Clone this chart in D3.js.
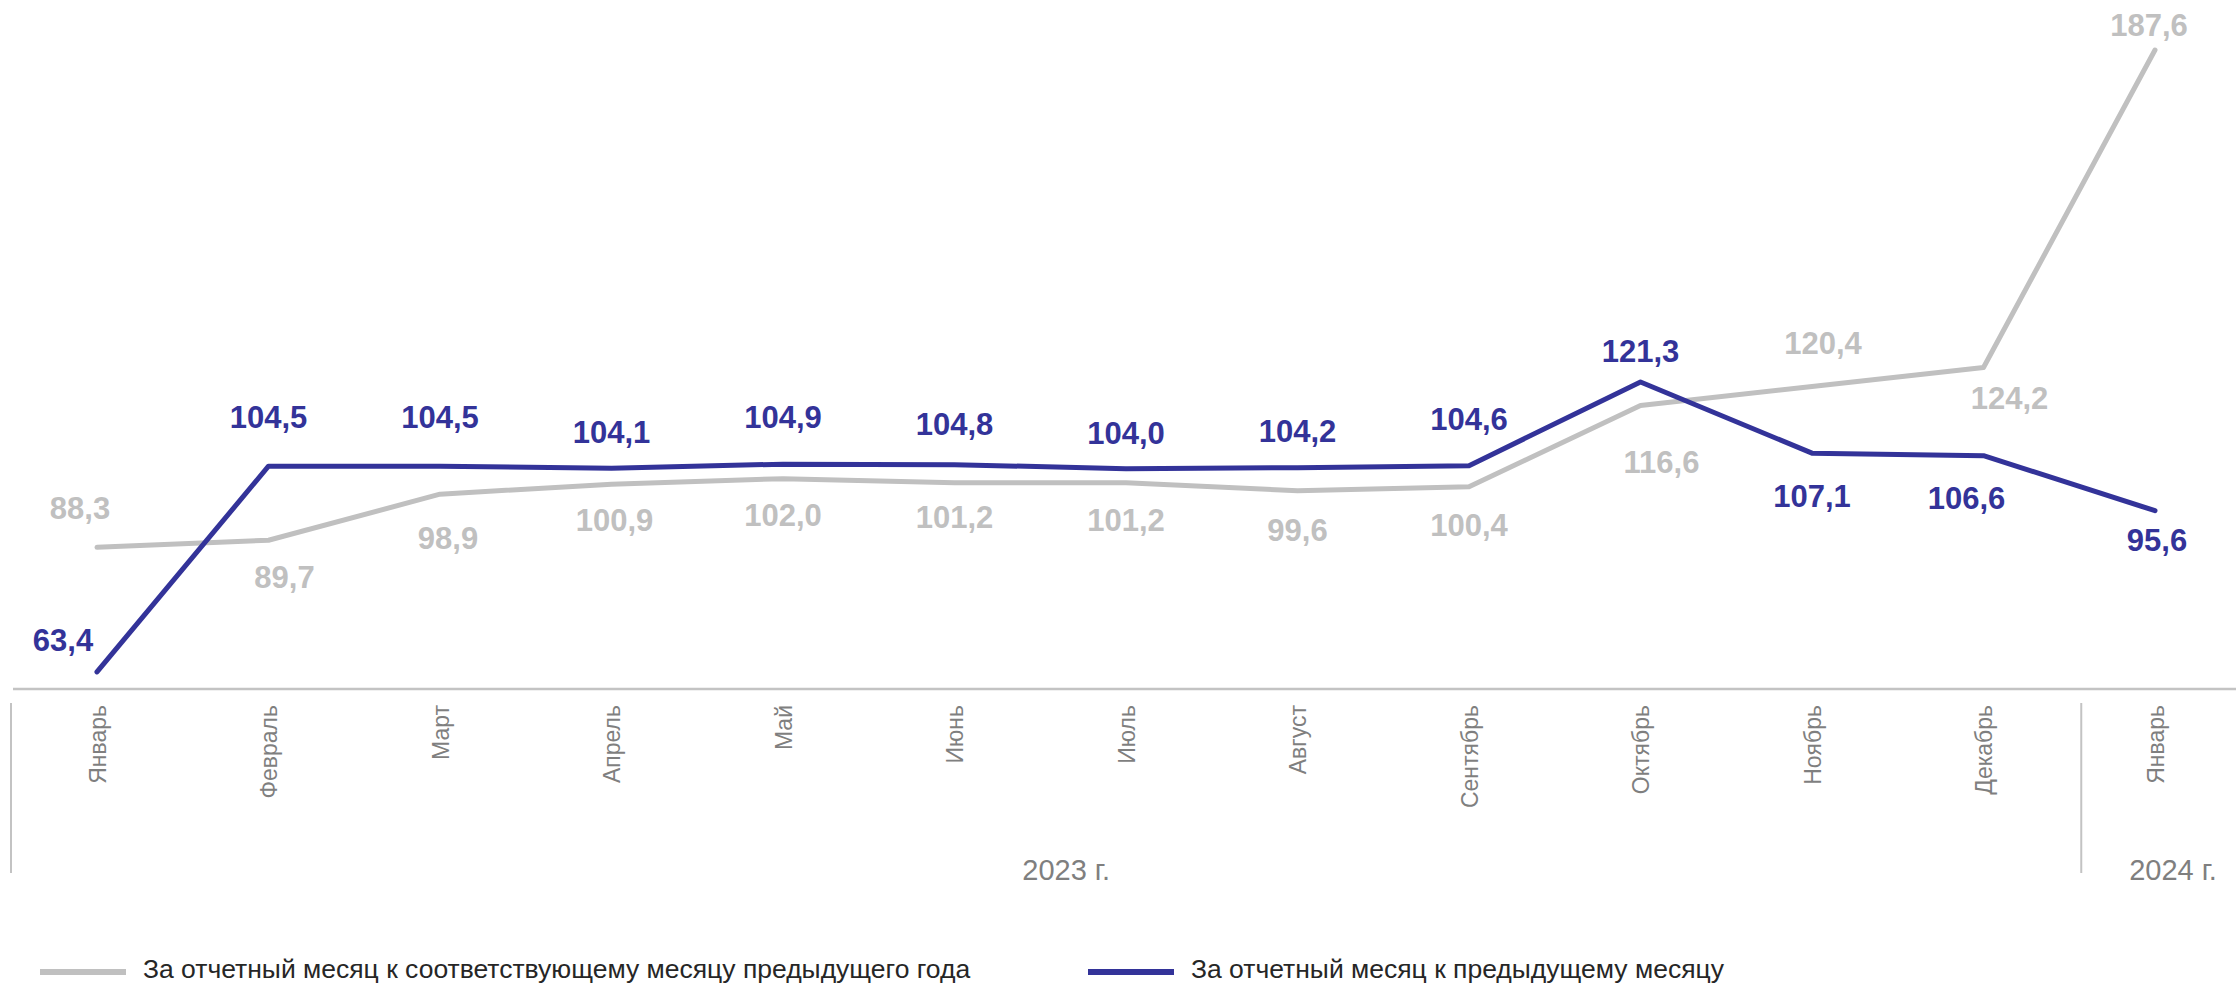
<!DOCTYPE html>
<html>
<head>
<meta charset="utf-8">
<script src="https://cdn.jsdelivr.net/npm/d3@7"></script>
<style>
  html, body { margin: 0; padding: 0; background: #ffffff; }
  svg { display: block; font-family: Arial, "Liberation Sans", sans-serif; }
</style>
</head>
<body>
<svg id="chart" width="2236" height="987"></svg>
<script>
// ---- data ----
const months = ["Январь","Февраль","Март","Апрель","Май","Июнь","Июль","Август","Сентябрь","Октябрь","Ноябрь","Декабрь","Январь"];
const years = [{label: "2023 г.", from: 0, to: 11}, {label: "2024 г.", from: 12, to: 12}];
const seriesNames = ["За отчетный месяц к соответствующему месяцу предыдущего года", "За отчетный месяц к предыдущему месяцу"];
const yoyValues = [88.3, 89.7, 98.9, 100.9, 102.0, 101.2, 101.2, 99.6, 100.4, 116.6, 120.4, 124.2, 187.6];
const momValues = [63.4, 104.5, 104.5, 104.1, 104.9, 104.8, 104.0, 104.2, 104.6, 121.3, 107.1, 106.6, 95.6];

// ---- label nudges (layout only) ----
const yoyLabelNudge = [[-17,-39],[16,37],[8,44],[3,36],[0,36],[0,34],[0,37],[0,39],[0,38],[21,56],[11,-44],[26,30],[-6,-25]];
const momLabelNudge = [[-34,-32],[0,-49],[0,-49],[0,-36],[0,-47],[0,-41],[0,-36],[0,-37],[0,-47],[0,-31],[0,43],[-17,42],[2,29]];

const colors = { yoy: "#c0c0c0", mom: "#333399", axisText: "#7f7f7f", axisLine: "#c3c3c3", legendText: "#262626" };

const svg = d3.select("#chart");

const x = d3.scalePoint().domain(d3.range(months.length)).range([97, 2155]);
const y = d3.scaleLinear().domain([60, 190]).range([689, 38]);

// axis line
svg.append("line")
  .attr("x1", 13).attr("x2", 2236)
  .attr("y1", y(60)).attr("y2", y(60))
  .attr("stroke", colors.axisLine).attr("stroke-width", 2.5);

// month labels via d3 axis
const axisG = svg.append("g")
  .attr("transform", `translate(0,${y(60)})`)
  .call(d3.axisBottom(x).tickSize(0).tickFormat(i => months[i]));
axisG.select(".domain").remove();
axisG.selectAll("text")
  .attr("transform", "rotate(-90)")
  .attr("x", -16).attr("y", 0).attr("dy", "0.36em")
  .attr("text-anchor", "end")
  .attr("fill", colors.axisText)
  .style("font-size", "23px")
  .style("font-family", "Arial, 'Liberation Sans', sans-serif");

// year separators
const step = x.step();
const sepXs = [x(0) - 86, x(11) + step * 0.57];
svg.selectAll("line.sep").data(sepXs).enter().append("line")
  .attr("class", "sep")
  .attr("x1", d => d).attr("x2", d => d)
  .attr("y1", 703).attr("y2", 873)
  .attr("stroke", colors.axisLine).attr("stroke-width", 2);

// year labels
svg.selectAll("text.year").data(years).enter().append("text")
  .attr("class", "year")
  .attr("x", (d, i) => i === 0 ? (sepXs[0] + sepXs[1]) / 2 + 20 : x(d.from) + 18)
  .attr("y", 880)
  .attr("text-anchor", "middle")
  .attr("fill", colors.axisText)
  .style("font-size", "29px")
  .text(d => d.label);

// lines
const line = d3.line().x((d, i) => x(i)).y(d => y(d));
svg.append("path").datum(yoyValues)
  .attr("d", line).attr("fill", "none")
  .attr("stroke", colors.yoy).attr("stroke-width", 5)
  .attr("stroke-linejoin", "round").attr("stroke-linecap", "round");
svg.append("path").datum(momValues)
  .attr("d", line).attr("fill", "none")
  .attr("stroke", colors.mom).attr("stroke-width", 5)
  .attr("stroke-linejoin", "round").attr("stroke-linecap", "round");

const fmt = v => v.toFixed(1).replace(".", ",");

function labels(values, nudge, color, cls) {
  svg.selectAll("text." + cls).data(values).enter().append("text")
    .attr("class", cls)
    .attr("x", (d, i) => x(i) + nudge[i][0])
    .attr("y", (d, i) => y(d) + nudge[i][1] + 11)
    .attr("text-anchor", "middle")
    .attr("fill", color)
    .style("font-size", "31px")
    .style("font-weight", "bold")
    .text(d => fmt(d));
}
labels(yoyValues, yoyLabelNudge, colors.yoy, "lblYoy");
labels(momValues, momLabelNudge, colors.mom, "lblMom");

// legend
const legendItems = [
  { name: seriesNames[0], color: colors.yoy, x0: 40 },
  { name: seriesNames[1], color: colors.mom, x0: 1088 }
];
const lg = svg.selectAll("g.legend").data(legendItems).enter().append("g")
  .attr("class", "legend")
  .attr("transform", d => `translate(${d.x0},969)`);
lg.append("line")
  .attr("x1", 0).attr("x2", 86).attr("y1", 3).attr("y2", 3)
  .attr("stroke", d => d.color).attr("stroke-width", 6);
lg.append("text")
  .attr("x", 103).attr("y", 0).attr("dy", "0.35em")
  .attr("fill", colors.legendText)
  .style("font-size", "26.5px")
  .text(d => d.name);
</script>
</body>
</html>
